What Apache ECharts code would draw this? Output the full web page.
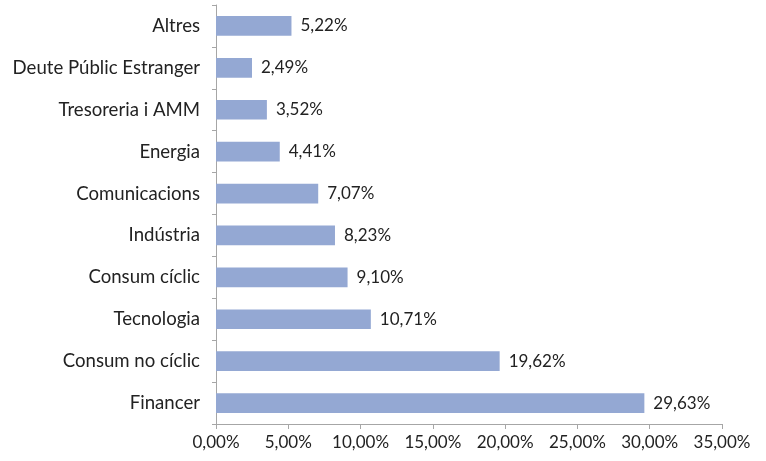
<!DOCTYPE html>
<html>
<head>
<meta charset="utf-8">
<script src="https://cdn.jsdelivr.net/npm/echarts@6/dist/echarts.min.js"></script>
<style>
  html, body { margin: 0; padding: 0; background: #fff; }
  #chart { width: 766px; height: 461px; }
</style>
</head>
<body>
<div id="chart"></div>
<script>
// bottom to top, as ECharts draws a category y axis
const categories = [
  'Financer', 'Consum no cíclic', 'Tecnologia', 'Consum cíclic', 'Indústria',
  'Comunicacions', 'Energia', 'Tresoreria i AMM', 'Deute Públic Estranger', 'Altres'
];
const weights = [29.63, 19.62, 10.71, 9.10, 8.23, 7.07, 4.41, 3.52, 2.49, 5.22];
const xTicks = { min: 0, max: 35, step: 5 };

const fmt = v => v.toFixed(2).replace('.', ',') + '%';
const axisGrey = '#a6a6a6';
const font = 'Lato, "Open Sans", sans-serif';

const chart = echarts.init(document.getElementById('chart'));
chart.setOption({
  animation: false,
  grid: { left: 216, right: 44, top: 5, bottom: 37, containLabel: false },
  xAxis: {
    type: 'value',
    min: xTicks.min, max: xTicks.max, interval: xTicks.step,
    splitLine: { show: false },
    axisLine: { show: true, lineStyle: { color: axisGrey, width: 1 } },
    axisTick: { show: true, length: 5, lineStyle: { color: axisGrey } },
    axisLabel: {
      formatter: v => fmt(v),
      color: '#222', fontFamily: font, fontSize: 17, margin: 10
    }
  },
  yAxis: {
    type: 'category',
    data: categories,
    axisLine: { show: true, lineStyle: { color: axisGrey, width: 1 } },
    axisTick: { show: true, length: 4, lineStyle: { color: axisGrey } },
    axisLabel: { color: '#222', fontFamily: font, fontSize: 18.6, margin: 16 }
  },
  series: [{
    type: 'bar',
    data: weights,
    barCategoryGap: '53%',
    itemStyle: { color: '#94a8d3' },
    label: {
      show: true, position: 'right', distance: 9,
      formatter: p => fmt(p.value),
      color: '#222', fontFamily: font, fontSize: 17
    }
  }]
});
</script>
</body>
</html>
